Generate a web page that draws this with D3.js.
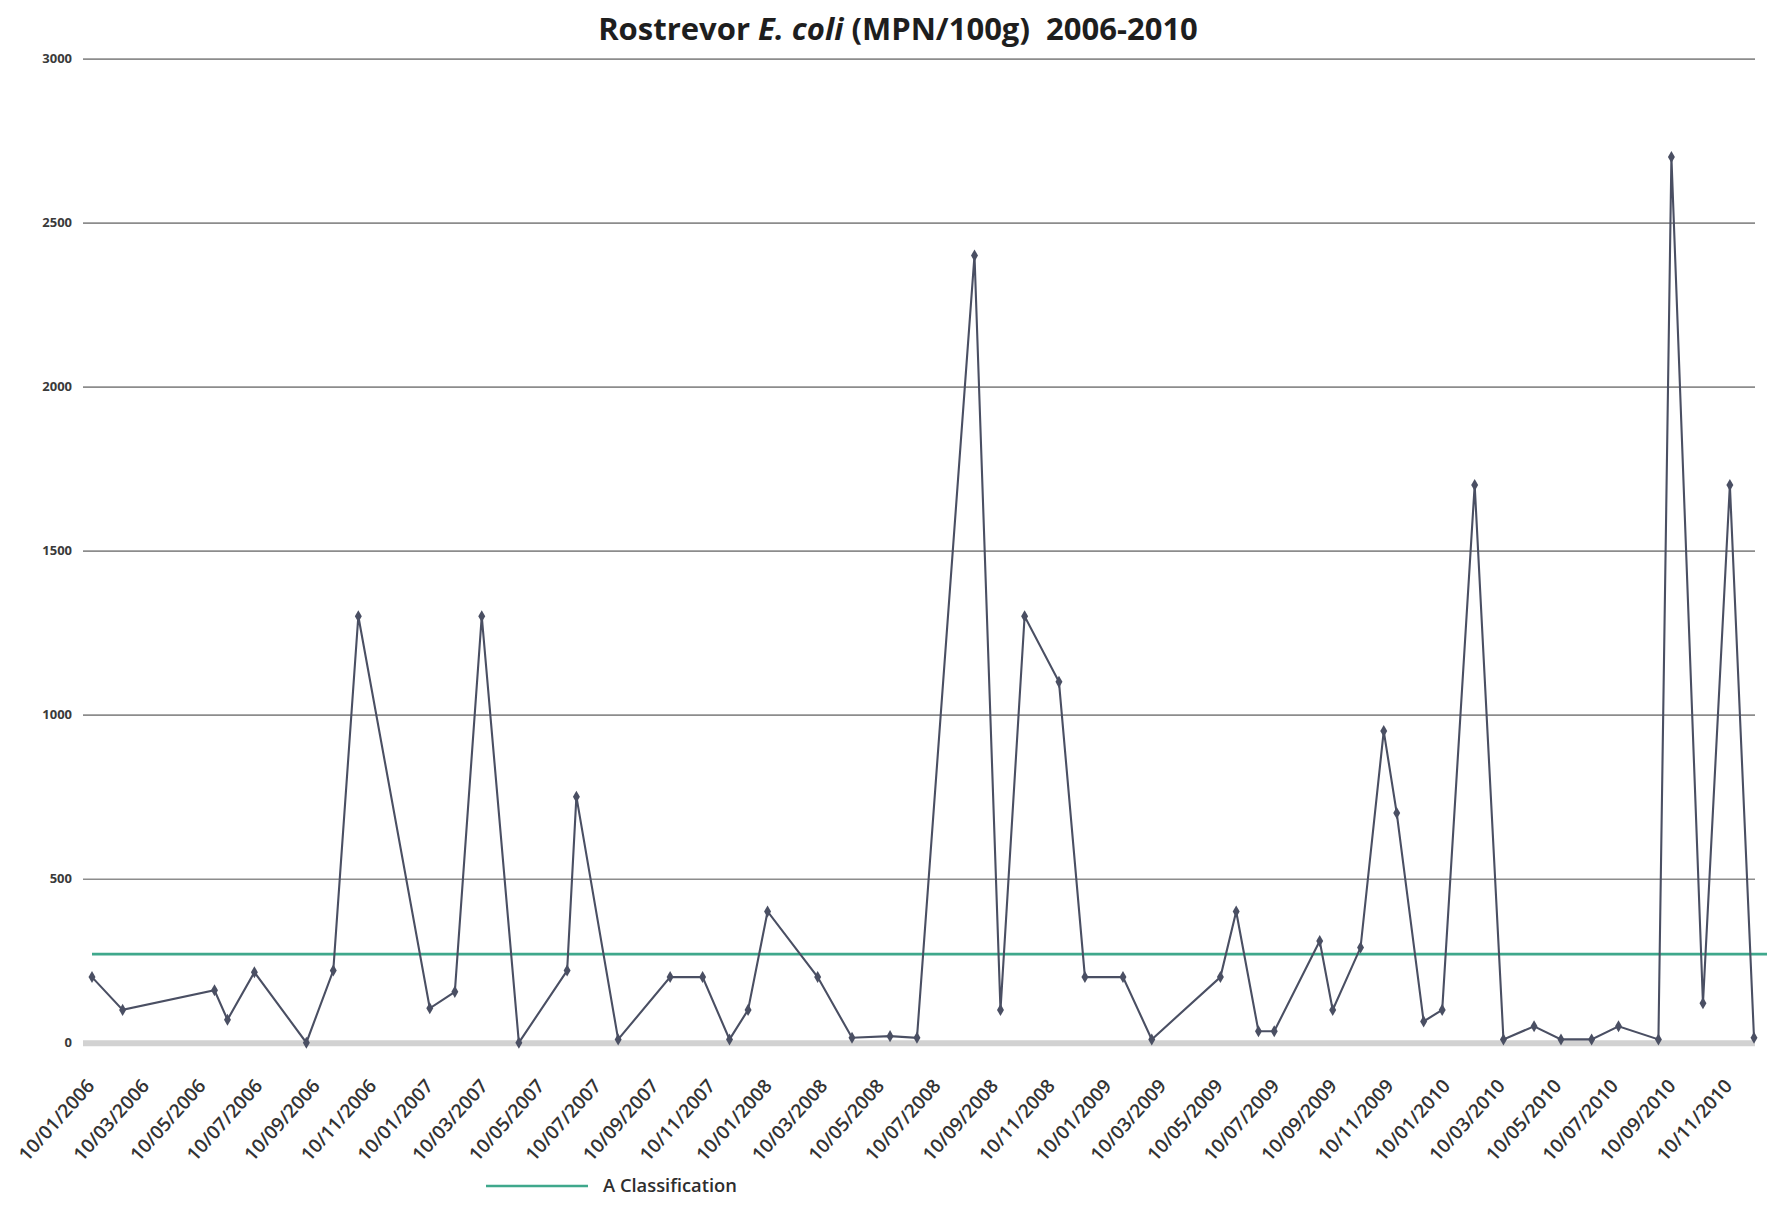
<!DOCTYPE html>
<html>
<head>
<meta charset="utf-8">
<script src="https://cdn.jsdelivr.net/npm/d3@7"></script>
<style>
  html, body { margin: 0; padding: 0; background: #fff; }
  svg { display: block; }
  text { font-family: "Open Sans", "Liberation Sans", sans-serif; }
</style>
</head>
<body>
<svg id="chart" width="1767" height="1210"></svg>
<script>
// ---- Data ----
const sampleDates = [
  "10/01/2006","12/02/2006","22/05/2006","05/06/2006","04/07/2006","29/08/2006","27/09/2006","24/10/2006",
  "09/01/2007","05/02/2007","06/03/2007","15/04/2007","06/06/2007","16/06/2007","31/07/2007","25/09/2007",
  "30/10/2007","28/11/2007","18/12/2007","08/01/2008","02/03/2008","08/04/2008","19/05/2008","17/06/2008",
  "18/08/2008","15/09/2008","11/10/2008","17/11/2008","15/12/2008","25/01/2009","25/02/2009","10/05/2009",
  "27/05/2009","20/06/2009","07/07/2009","25/08/2009","08/09/2009","08/10/2009","02/11/2009","16/11/2009",
  "15/12/2009","04/01/2010","08/02/2010","11/03/2010","13/04/2010","12/05/2010","14/06/2010","13/07/2010",
  "25/08/2010","08/09/2010","12/10/2010","10/11/2010","06/12/2010"
];
const eColiValues = [
  200,100,160,70,215,0,220,1300,
  105,155,1300,0,220,750,10,200,
  200,10,100,400,200,15,20,15,
  2400,100,1300,1100,200,200,10,200,
  400,35,35,310,100,290,950,700,
  65,100,1700,10,50,10,10,50,
  10,2700,120,1700,15
];
const classDates = ["10/01/2006","31/12/2010"];
const classValues = [270, 270];
const xTickLabels = [
  "10/01/2006","10/03/2006","10/05/2006","10/07/2006","10/09/2006","10/11/2006",
  "10/01/2007","10/03/2007","10/05/2007","10/07/2007","10/09/2007","10/11/2007",
  "10/01/2008","10/03/2008","10/05/2008","10/07/2008","10/09/2008","10/11/2008",
  "10/01/2009","10/03/2009","10/05/2009","10/07/2009","10/09/2009","10/11/2009",
  "10/01/2010","10/03/2010","10/05/2010","10/07/2010","10/09/2010","10/11/2010"
];
const yTickValues = [0, 500, 1000, 1500, 2000, 2500, 3000];
const legendLabel = "A Classification";

// ---- Setup ----
const parse = d3.timeParse("%d/%m/%Y");
const svg = d3.select("#chart");
const W = 1767, H = 1210;

const x = d3.scaleTime()
  .domain([parse(sampleDates[0]), parse(sampleDates[sampleDates.length - 1])])
  .range([92, 1754]);
const y = d3.scaleLinear().domain([0, 3000]).range([1042.7, 58.6]);

const gridLeft = 83, gridRight = 1755;

function fitFont(sel, targetWidth) {
  sel.attr("font-size", 10);
  const w = sel.node().getComputedTextLength();
  sel.attr("font-size", (10 * targetWidth / w).toFixed(2));
}

// ---- Gridlines ----
const yAxis = d3.axisLeft(y).tickValues(yTickValues).tickSize(-(gridRight - gridLeft)).tickPadding(11)
  .tickFormat(d3.format("d"));
const gy = svg.append("g").attr("transform", `translate(${gridLeft},0)`).call(yAxis);
gy.select(".domain").remove();
gy.selectAll(".tick line")
  .attr("stroke", d => d === 0 ? "#d2d2d2" : "#8c8c8c")
  .attr("stroke-width", d => d === 0 ? 6 : 1.6);
gy.selectAll(".tick text")
  .attr("fill", "#3a3a3a")
  .attr("font-weight", "bold")
  .attr("font-size", 13)
  .attr("font-family", "'Open Sans', sans-serif");

// ---- X axis labels ----
const xAxis = d3.axisBottom(x).tickValues(xTickLabels.map(parse)).tickSize(0)
  .tickFormat(d3.timeFormat("%d/%m/%Y"));
const gx = svg.append("g").attr("transform", `translate(0,${y(0)})`).call(xAxis);
gx.select(".domain").remove();
gx.selectAll(".tick text")
  .attr("fill", "#333")
  .attr("font-weight", "600")
  .attr("font-family", "'Open Sans', sans-serif")
  .attr("text-anchor", "end")
  .attr("dy", 0)
  .attr("y", 0)
  .attr("transform", "translate(3,44) rotate(-48)");
gx.selectAll(".tick text").each(function () { fitFont(d3.select(this), 102); });

// ---- Classification line ----
const classData = classDates.map((d, i) => ({ date: parse(d), value: classValues[i] }));
svg.append("clipPath").attr("id", "clipR").append("rect")
  .attr("x", 0).attr("y", 0).attr("width", W).attr("height", H);
svg.append("path")
  .datum(classData)
  .attr("clip-path", "url(#clipR)")
  .attr("fill", "none")
  .attr("stroke", "#3fa88c")
  .attr("stroke-width", 2.6)
  .attr("d", d3.line().x(d => x(d.date)).y(d => y(d.value)));

// ---- E. coli series ----
const series = sampleDates.map((d, i) => ({ date: parse(d), value: eColiValues[i] }));
svg.append("path")
  .datum(series)
  .attr("fill", "none")
  .attr("stroke", "#4a4f63")
  .attr("stroke-width", 2.1)
  .attr("stroke-linejoin", "miter")
  .attr("d", d3.line().x(d => x(d.date)).y(d => y(d.value)));

svg.append("g").selectAll("path.m")
  .data(series).join("path")
  .attr("class", "m")
  .attr("transform", d => `translate(${x(d.date)},${y(d.value)})`)
  .attr("d", d3.symbol().type(d3.symbolDiamond).size(42))
  .attr("fill", "#4a4f63");

// ---- Title ----
const title = svg.append("text")
  .attr("x", 898).attr("y", 40)
  .attr("text-anchor", "middle")
  .attr("font-weight", "bold")
  .attr("fill", "#1e1e1e");
title.append("tspan").text("Rostrevor ");
title.append("tspan").attr("font-style", "italic").text("E. coli");
title.append("tspan").text(" (MPN/100g)  2006-2010").attr("xml:space", "preserve");
title.attr("xml:space", "preserve");
fitFont(title, 600);

// ---- Legend ----
const lg = svg.append("g");
lg.append("line").attr("x1", 486).attr("x2", 588).attr("y1", 1186).attr("y2", 1186)
  .attr("stroke", "#3fa88c").attr("stroke-width", 2.6);
const lt = lg.append("text").attr("x", 603).attr("y", 1186).attr("dy", "0.35em")
  .attr("font-weight", "600").attr("fill", "#2e2e2e").text(legendLabel);
fitFont(lt, 134);
</script>
</body>
</html>
